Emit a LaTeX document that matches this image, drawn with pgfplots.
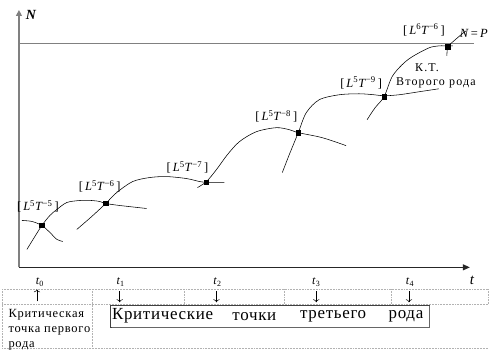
\documentclass[border=0pt]{standalone}
\usepackage{fontspec}
\setmainfont{Liberation Serif}
\usepackage{pgfplots}
\pgfplotsset{compat=1.18}
\usetikzlibrary{arrows.meta}
\newcommand{\LT}[2]{[\,\textit{L}\textsuperscript{#1}\textit{T}\textsuperscript{#2}\,]}
\newfontfamily\wide[LetterSpace=6]{Liberation Serif}
\newfontfamily\widec[LetterSpace=10]{Liberation Serif}
\newfontfamily\wideb[LetterSpace=4]{Liberation Serif}
\begin{document}
\begin{tikzpicture}
\begin{axis}[
  scale only axis, width=491pt, height=356pt,
  xmin=0, xmax=491, ymin=0, ymax=356, y dir=reverse,
  hide axis, clip=false,
  every axis plot/.append style={line width=0.55pt},
]
\path (axis cs:0,0) rectangle (axis cs:491,356);
% table
\addplot[gray!60, densely dotted, line width=0.8pt] coordinates {(2,290)(490,290)};
\addplot[gray!60, densely dotted, line width=0.8pt] coordinates {(2,305)(490,305)};
\addplot[gray!60, densely dotted, line width=0.8pt] coordinates {(2,349)(490,349)};
\addplot[gray!60, densely dotted, line width=0.8pt] coordinates {(2,290)(2,349)};
\addplot[gray!60, densely dotted, line width=0.8pt] coordinates {(93,290)(93,349)};
\addplot[gray!60, densely dotted, line width=0.8pt] coordinates {(185,290)(185,305)};
\addplot[gray!60, densely dotted, line width=0.8pt] coordinates {(285,290)(285,305)};
\addplot[gray!60, densely dotted, line width=0.8pt] coordinates {(392,290)(392,305)};
\addplot[gray!60, densely dotted, line width=0.8pt] coordinates {(490,290)(490,305)};
% box
\addplot[fill=white, draw=black!75, line width=0.8pt] coordinates {(111,306)(430,306)(430,328)(111,328)} -- cycle;
\addplot[black!60, line width=1pt] coordinates {(112,328.5)(430.5,328.5)(430.5,307)};
% axes
\addplot[gray, line width=1.1pt, -{Triangle[length=6pt,width=6pt]}] coordinates {(19,268)(19,10)};
\addplot[black!85, line width=1pt, -{Triangle[length=7pt,width=6pt]}] coordinates {(19,268)(471,268)};
\addplot[gray, line width=1pt] coordinates {(19,44)(475,44)};
% tick arrows
\addplot[-{To[length=3pt]}, line width=0.5pt] coordinates {(37,302)(37,290)};
\addplot[-{To[length=3pt]}, line width=0.5pt] coordinates {(120,292)(120,303)};
\addplot[-{To[length=3pt]}, line width=0.5pt] coordinates {(217,292)(217,303)};
\addplot[-{To[length=3pt]}, line width=0.5pt] coordinates {(317,292)(317,303)};
\addplot[-{To[length=3pt]}, line width=0.5pt] coordinates {(410,292)(410,303)};
% curves
\addplot[smooth] coordinates {(22,221)(32,222)(42,226)(50,233)(57,240)(63,242)};
\addplot[smooth] coordinates {(27,250)(35,237)(42,226)(50,216)(57,210)(67,203)(80,201)(92,201)(100,202)(106,204)(120,206)(147,209)};
\addplot[smooth] coordinates {(77,230)(92,217)(106,204)(117,193)(133,182)(150,178)(167,177)(187,179)(200,182)(207,183)(225,183)};
\addplot[smooth] coordinates {(198,188)(207,182)(217,170)(228,155)(240,142)(257,132)(277,128)(290,130)(299,133)(323,138)(347,146)};
\addplot[smooth] coordinates {(283,173)(290,155)(299,133)(307,113)(320,100)(340,95)(360,94)(375,95)(385,96)(400,95)(420,92)(440,89)};
\addplot[smooth] coordinates {(368,120)(376,108)(385,97)(393,77)(403,65)(413,57)(430,48)(440,46)(449,46)(454,46)};
\addplot[smooth] coordinates {(448,56)(449,47)(455,41)(462,35)(467,31)};
% points
\addplot[only marks, mark=square*, mark size=2.2pt] coordinates {(42,226)(106,204)(207,183)(299,133)(385,97)(449,47)};
% labels
\node[font=\fontsize{12.5}{12.5}\selectfont] at (axis cs:38,207) {\LT{5}{−5}};
\node[font=\fontsize{12.5}{12.5}\selectfont] at (axis cs:100,187) {\LT{5}{−6}};
\node[font=\fontsize{12.5}{12.5}\selectfont] at (axis cs:188,168) {\LT{5}{−7}};
\node[font=\fontsize{12.5}{12.5}\selectfont] at (axis cs:277,117) {\LT{5}{−8}};
\node[font=\fontsize{12.5}{12.5}\selectfont] at (axis cs:362,83) {\LT{5}{−9}};
\node[font=\fontsize{12.5}{12.5}\selectfont] at (axis cs:425,30) {\LT{6}{−6}};
\node[font=\fontsize{12.5}{12.5}\selectfont] at (axis cs:475,33) {\textit{N}\,=\,\textit{P}};
\node[font=\widec\fontsize{12}{12}\selectfont] at (axis cs:428,68) {К.Т.};
\node[font=\widec\fontsize{12}{12}\selectfont] at (axis cs:437,83) {Второго рода};
\node[font=\fontsize{14}{14}\selectfont\bfseries\itshape] at (axis cs:31,15) {N};
\node[font=\fontsize{15}{15}\selectfont\itshape] at (axis cs:473,281) {t};
\node[font=\fontsize{12}{12}\selectfont] at (axis cs:40,283) {\textit{t}\textsubscript{0}};
\node[font=\fontsize{12}{12}\selectfont] at (axis cs:121,283) {\textit{t}\textsubscript{1}};
\node[font=\fontsize{12}{12}\selectfont] at (axis cs:218,283) {\textit{t}\textsubscript{2}};
\node[font=\fontsize{12}{12}\selectfont] at (axis cs:317,283) {\textit{t}\textsubscript{3}};
\node[font=\fontsize{12}{12}\selectfont] at (axis cs:411,283) {\textit{t}\textsubscript{4}};
% table text
\node[font=\wide\fontsize{12.5}{12.5}\selectfont, anchor=west] at (axis cs:5,316) {Критическая};
\node[font=\wide\fontsize{12.5}{12.5}\selectfont, anchor=west] at (axis cs:5,332) {точка первого};
\node[font=\wide\fontsize{12.5}{12.5}\selectfont, anchor=west] at (axis cs:5,347) {рода};
\node[font=\wideb\fontsize{17}{17}\selectfont] at (axis cs:163,317) {Критические};
\node[font=\wideb\fontsize{17}{17}\selectfont] at (axis cs:255,317) {точки};
\node[font=\wideb\fontsize{17}{17}\selectfont] at (axis cs:334,317) {третьего};
\node[font=\wideb\fontsize{17}{17}\selectfont] at (axis cs:407,317) {рода};
\end{axis}
\end{tikzpicture}
\end{document}
